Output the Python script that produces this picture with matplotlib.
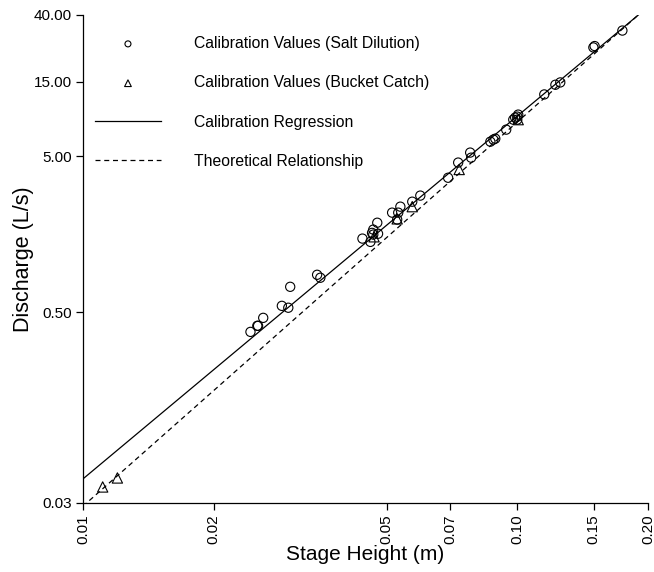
import numpy as np
import matplotlib
matplotlib.use("Agg")
import matplotlib.pyplot as plt

plt.rcParams['font.family'] = ['Liberation Sans', 'DejaVu Sans']

# Salt dilution calibration values (stage height m, discharge L/s)
salt_h = [0.0243, 0.0252, 0.0253, 0.0260, 0.0287, 0.0297, 0.0300, 0.0346, 0.0352,
          0.0440, 0.0459, 0.0463, 0.0466, 0.0476, 0.0478, 0.0466, 0.0515, 0.0529,
          0.0532, 0.0538, 0.0573, 0.0598, 0.0693, 0.0731, 0.0779, 0.0783, 0.0867,
          0.0881, 0.0890, 0.0943, 0.0979, 0.0989, 0.1000, 0.1005, 0.1000, 0.1154,
          0.1224, 0.1256, 0.1497, 0.1507, 0.1746]
salt_q = [0.374, 0.409, 0.409, 0.460, 0.549, 0.534, 0.727, 0.868, 0.831,
          1.48, 1.41, 1.61, 1.69, 1.87, 1.59, 1.57, 2.17, 1.96,
          2.17, 2.37, 2.55, 2.79, 3.63, 4.54, 5.26, 4.88, 6.18,
          6.37, 6.46, 7.38, 8.55, 8.81, 8.94, 9.21, 8.55, 12.4,
          14.3, 14.8, 24.8, 25.3, 31.8]

# Bucket catch calibration values
bucket_h = [0.0111, 0.0120, 0.0468, 0.0529, 0.0573, 0.0735, 0.1005]
bucket_q = [0.0380, 0.0434, 1.52, 1.98, 2.37, 4.10, 8.55]

# Power-law relationships Q = a * h^b
reg_a, reg_b = 1895.0, 2.323
theo_a, theo_b = 2381.0, 2.46

x_ticks = [0.01, 0.02, 0.05, 0.07, 0.10, 0.15, 0.20]
y_ticks = [0.03, 0.50, 5.00, 15.00, 40.00]

W, H = 654, 572
fig = plt.figure(figsize=(W / 100, H / 100), dpi=100)
ax = fig.add_axes([83 / W, 1 - 503 / H, (648 - 83) / W, (503 - 15) / H])
ax.set_xscale('log')
ax.set_yscale('log')
ax.set_xlim(x_ticks[0], x_ticks[-1])
ax.set_ylim(y_ticks[0], y_ticks[-1])

hh = np.geomspace(0.009, 0.25, 300)
ax.scatter(salt_h, salt_q, s=44, facecolors='none', edgecolors='black',
           linewidths=0.8, marker='o', label='Calibration Values (Salt Dilution)', zorder=3)
ax.scatter(bucket_h, bucket_q, s=55, facecolors='none', edgecolors='black',
           linewidths=0.8, marker='^', label='Calibration Values (Bucket Catch)', zorder=3)
ax.plot(hh, reg_a * hh ** reg_b, color='black', lw=0.9, ls='-',
        label='Calibration Regression')
ax.plot(hh, theo_a * hh ** theo_b, color='black', lw=0.9, ls=(0, (4, 3)),
        label='Theoretical Relationship')

for s in ['top', 'right']:
    ax.spines[s].set_visible(False)
for s in ['left', 'bottom']:
    ax.spines[s].set_linewidth(0.9)

ax.xaxis.set_minor_locator(matplotlib.ticker.NullLocator())
ax.yaxis.set_minor_locator(matplotlib.ticker.NullLocator())
ax.set_xticks(x_ticks)
ax.set_xticklabels([f"{v:.2f}" for v in x_ticks], rotation=90, fontsize=11)
ax.set_yticks(y_ticks)
ax.set_yticklabels([f"{v:.2f}" for v in y_ticks], fontsize=11)
ax.tick_params(direction='out', length=5, width=0.9, pad=3, colors='black')

ax.set_xlabel('Stage Height (m)', fontsize=15, labelpad=1)
ax.set_ylabel('Discharge (L/s)', fontsize=15.5, labelpad=0)

leg = ax.legend(loc='upper left', bbox_to_anchor=(95 / W, 1 - 36 / H),
                bbox_transform=fig.transFigure, frameon=False, fontsize=11.3,
                borderpad=0, borderaxespad=0, labelspacing=1.55,
                handlelength=4.2, handletextpad=2.1, markerscale=0.65)

fig.savefig('out.png', dpi=100)
